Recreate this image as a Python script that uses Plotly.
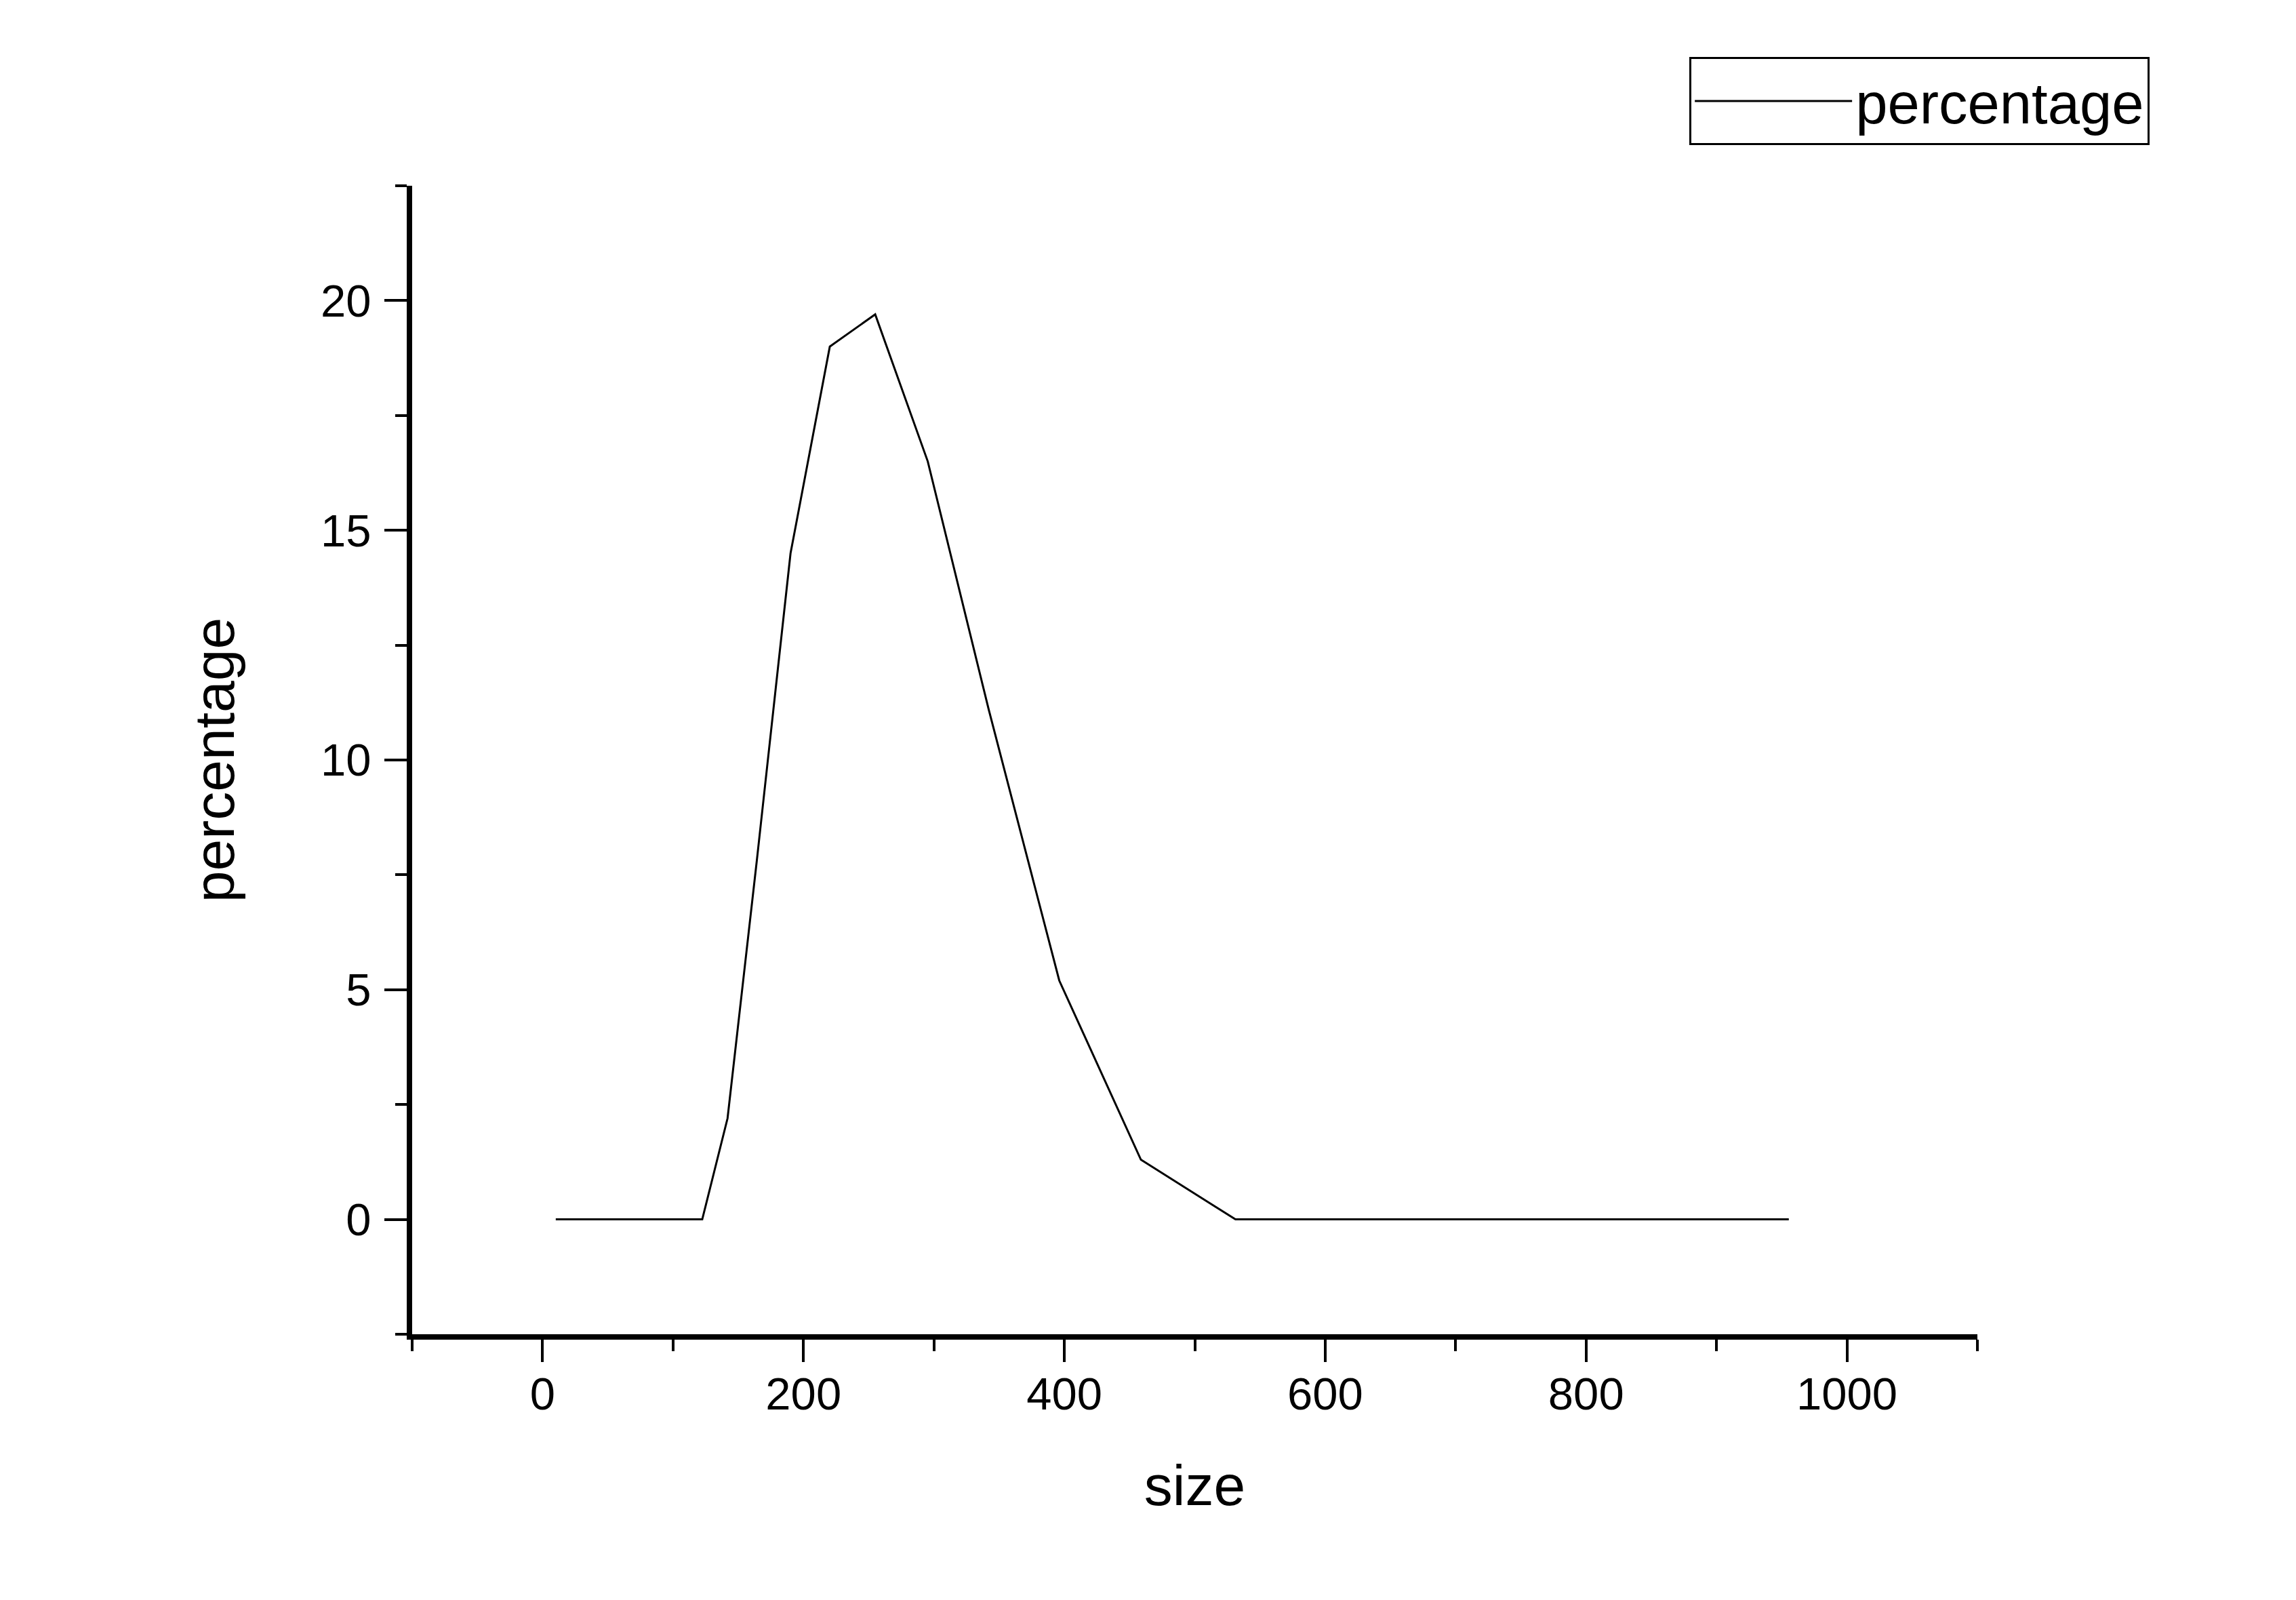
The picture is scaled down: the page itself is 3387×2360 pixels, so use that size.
import plotly.graph_objects as go

# size bins (nm) and percentage values
size = [10.1, 11.7, 13.54, 15.69, 18.17, 21.04, 24.36, 28.21, 32.67, 37.84,
        43.82, 50.75, 58.77, 68.06, 78.82, 91.28, 105.7, 122.4, 141.8, 164.2,
        190.1, 220.2, 255.0, 295.3, 342.0, 396.1, 458.7, 531.2, 615.1, 712.4,
        825.0, 955.4]
percentage = [0, 0, 0, 0, 0, 0, 0, 0, 0, 0,
              0, 0, 0, 0, 0, 0, 0, 0, 2.2, 7.8,
              14.5, 19.0, 19.7, 16.5, 11.1, 5.2, 1.3, 0, 0, 0,
              0, 0]

x_ticks = [0, 200, 400, 600, 800, 1000]
y_ticks = [0, 5, 10, 15, 20]

font_name = "Liberation Sans, Arial, sans-serif"

fig = go.Figure()

fig.add_trace(go.Scatter(
    x=size,
    y=percentage,
    mode="lines",
    name="percentage",
    line=dict(color="black", width=3)
))

fig.update_layout(
    width=3387,
    height=2360,
    paper_bgcolor="white",
    plot_bgcolor="white",
    font=dict(family=font_name, color="black", size=67),
    margin=dict(l=600, r=478, t=266, b=400),
    showlegend=True,
    legend=dict(
        x=0.816,
        y=1.112,
        xanchor="left",
        yanchor="top",
        bordercolor="black",
        borderwidth=3,
        bgcolor="white",
        font=dict(size=85),
        itemwidth=232
    ),
    xaxis=dict(
        title=dict(text="size", font=dict(size=84), standoff=72),
        range=[-100, 1100],
        tickvals=x_ticks,
        showgrid=False,
        zeroline=False,
        showline=True,
        linecolor="black",
        linewidth=8,
        ticks="outside",
        ticklen=33,
        tickwidth=4,
        tickcolor="black",
        ticklabelstandoff=-10,
        minor=dict(dtick=100, tick0=-100, ticks="outside", ticklen=17, tickwidth=4, tickcolor="black"),
        automargin=False
    ),
    yaxis=dict(
        title=dict(text="percentage", font=dict(size=84), standoff=103),
        range=[-2.5, 22.5],
        tickvals=y_ticks,
        showgrid=False,
        zeroline=False,
        showline=True,
        linecolor="black",
        linewidth=8,
        ticks="outside",
        ticklen=33,
        tickwidth=4,
        tickcolor="black",
        ticklabelstandoff=6,
        minor=dict(dtick=2.5, tick0=-2.5, ticks="outside", ticklen=17, tickwidth=4, tickcolor="black"),
        automargin=False
    )
)

fig.write_html("out.html")
